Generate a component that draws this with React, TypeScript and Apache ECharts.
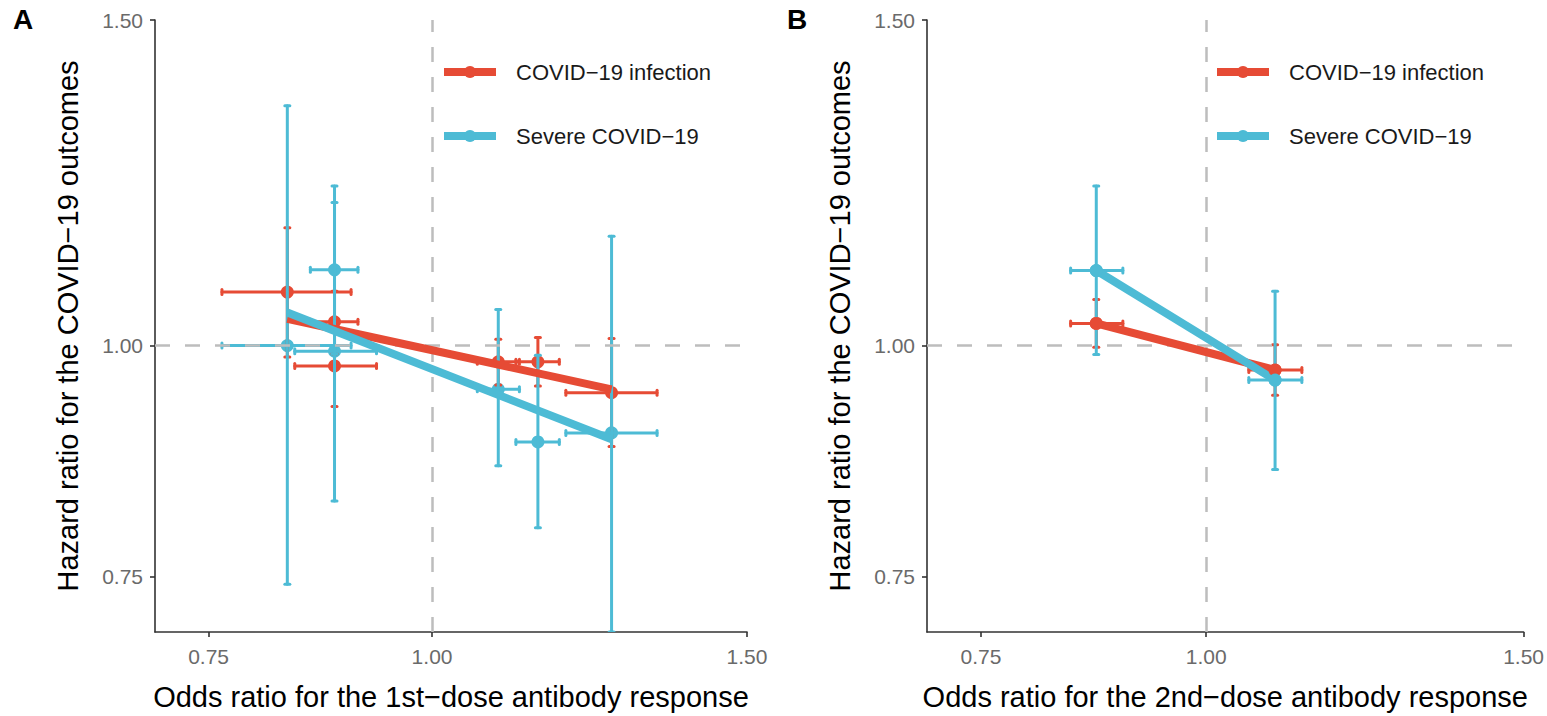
import React, { useEffect, useRef } from 'react';
import * as echarts from 'echarts';

const seriesNames = ['COVID−19 infection', 'Severe COVID−19'];
const seriesColors = ['#E64B35', '#4DBBD5'];
const tickValues = [0.75, 1.0, 1.5];
const axisMin = 0.7;
const axisMax = 1.5;
const xTitleA = 'Odds ratio for the 1st−dose antibody response';
const xTitleB = 'Odds ratio for the 2nd−dose antibody response';
const yTitle = 'Hazard ratio for the COVID−19 outcomes';

// Panel A — COVID−19 infection
const aInfX = [0.830, 0.882, 0.882, 1.089, 1.146, 1.260];
const aInfY = [1.069, 1.030, 0.975, 0.980, 0.980, 0.943];
const aInfXLo = [0.763, 0.855, 0.838, 1.060, 1.114, 1.188];
const aInfXHi = [0.901, 0.909, 0.931, 1.119, 1.178, 1.336];
const aInfYLo = [0.986, 0.990, 0.927, 0.952, 0.951, 0.882];
const aInfYHi = [1.158, 1.070, 1.025, 1.008, 1.010, 1.009];
// Panel A — Severe COVID−19
const aSevX = [0.830, 0.882, 0.882, 1.089, 1.146, 1.260];
const aSevY = [1.000, 1.099, 0.993, 0.947, 0.887, 0.897];
const aSevXLo = [0.763, 0.855, 0.838, 1.060, 1.114, 1.188];
const aSevXHi = [0.901, 0.909, 0.931, 1.119, 1.178, 1.336];
const aSevYLo = [0.743, 0.990, 0.824, 0.861, 0.797, 0.700];
const aSevYHi = [1.348, 1.220, 1.195, 1.046, 0.988, 1.146];
// Panel A — fitted lines
const aInfFitX = [0.830, 1.260];
const aInfFitY = [1.034, 0.947];
const aSevFitX = [0.830, 1.260];
const aSevFitY = [1.042, 0.890];

// Panel B — COVID−19 infection
const bInfX = [0.869, 1.092];
const bInfY = [1.028, 0.970];
const bInfXLo = [0.841, 1.056];
const bInfXHi = [0.899, 1.130];
const bInfYLo = [0.998, 0.940];
const bInfYHi = [1.059, 1.001];
// Panel B — Severe COVID−19
const bSevX = [0.869, 1.092];
const bSevY = [1.098, 0.958];
const bSevXLo = [0.841, 1.056];
const bSevXHi = [0.899, 1.130];
const bSevYLo = [0.989, 0.857];
const bSevYHi = [1.220, 1.070];

const L = Math.log;
const FONT = '"Liberation Sans", Arial, Helvetica, sans-serif';

const errData = (x: number[], y: number[], xlo: number[], xhi: number[], ylo: number[], yhi: number[]) =>
  x.map((v, i) => [L(v), L(y[i]), L(xlo[i]), L(xhi[i]), L(ylo[i]), L(yhi[i])]);
const ptData = (x: number[], y: number[]) => x.map((v, i) => [L(v), L(y[i])]);

const renderErr = (color: string) => (params: any, api: any) => {
  const c = api.coord([api.value(0), api.value(1)]);
  const xl = api.coord([api.value(2), api.value(1)]);
  const xh = api.coord([api.value(3), api.value(1)]);
  const yl = api.coord([api.value(0), api.value(4)]);
  const yh = api.coord([api.value(0), api.value(5)]);
  const cap = 2.5;
  const style = { stroke: color, lineWidth: 3, lineCap: 'round' };
  const seg = (x1: number, y1: number, x2: number, y2: number) => ({
    type: 'line',
    shape: { x1, y1, x2, y2 },
    style,
  });
  return {
    type: 'group',
    children: [
      seg(xl[0], c[1], xh[0], c[1]),
      seg(xl[0], c[1] - cap, xl[0], c[1] + cap),
      seg(xh[0], c[1] - cap, xh[0], c[1] + cap),
      seg(c[0], yl[1], c[0], yh[1]),
      seg(c[0] - cap, yl[1], c[0] + cap, yl[1]),
      seg(c[0] - cap, yh[1], c[0] + cap, yh[1]),
    ],
  };
};

const mkX = (gridIndex: number, name: string) => ({
  type: 'value',
  gridIndex,
  min: L(axisMin),
  max: L(axisMax),
  name,
  nameLocation: 'middle',
  nameGap: 50,
  nameTextStyle: { fontSize: 29, color: '#000', fontFamily: FONT },
  axisLine: { show: true, onZero: false, lineStyle: { color: '#333', width: 1.6 } },
  axisTick: { show: true, length: 5, customValues: tickValues.map(L), lineStyle: { color: '#333', width: 1.6 } },
  axisLabel: {
    customValues: tickValues.map(L),
    formatter: (v: number) => Math.exp(v).toFixed(2),
    fontSize: 21,
    color: '#6a6a6a',
    margin: 14,
    fontFamily: FONT,
  },
  splitLine: { show: false },
});

const mkY = (gridIndex: number) => ({
  type: 'value',
  gridIndex,
  min: L(axisMin),
  max: L(axisMax),
  name: yTitle,
  nameLocation: 'middle',
  nameGap: 73,
  nameTextStyle: { fontSize: 29, color: '#000', fontFamily: FONT },
  axisLine: { show: true, onZero: false, lineStyle: { color: '#333', width: 1.6 } },
  axisTick: { show: true, length: 5, customValues: tickValues.map(L), lineStyle: { color: '#333', width: 1.6 } },
  axisLabel: {
    customValues: tickValues.map(L),
    formatter: (v: number) => Math.exp(v).toFixed(2),
    fontSize: 21,
    color: '#6a6a6a',
    margin: 12,
    fontFamily: FONT,
  },
  splitLine: { show: false },
});

const refLineSeries = (idx: number) => ({
  type: 'line',
  xAxisIndex: idx,
  yAxisIndex: idx,
  data: [],
  z: 1,
  silent: true,
  markLine: {
    silent: true,
    symbol: 'none',
    label: { show: false },
    lineStyle: { color: '#BDBDBD', width: 2.5, type: [15, 15] },
    data: [{ xAxis: 0 }, { yAxis: 0 }],
  },
});

const lineSeries = (idx: number, nameIdx: number, x: number[], y: number[], withSymbol: boolean) => ({
  type: 'line',
  name: seriesNames[nameIdx],
  xAxisIndex: idx,
  yAxisIndex: idx,
  data: ptData(x, y),
  z: 5,
  symbol: withSymbol ? 'circle' : 'none',
  symbolSize: 13,
  showSymbol: withSymbol,
  itemStyle: { color: seriesColors[nameIdx] },
  lineStyle: { color: seriesColors[nameIdx], width: 8 },
});

const errSeries = (idx: number, nameIdx: number, d: number[][]) => ({
  type: 'custom',
  name: seriesNames[nameIdx],
  xAxisIndex: idx,
  yAxisIndex: idx,
  data: d,
  z: 3,
  clip: true,
  encode: { x: [0, 2, 3], y: [1, 4, 5] },
  itemStyle: { color: seriesColors[nameIdx] },
  renderItem: renderErr(seriesColors[nameIdx]),
});

const pointSeries = (idx: number, nameIdx: number, x: number[], y: number[]) => ({
  type: 'scatter',
  name: seriesNames[nameIdx],
  xAxisIndex: idx,
  yAxisIndex: idx,
  data: ptData(x, y),
  z: 2,
  symbol: 'circle',
  symbolSize: 13,
  itemStyle: { color: seriesColors[nameIdx], opacity: 1 },
});

const mkLegend = (left: number) => ({
  orient: 'vertical',
  left,
  top: 59,
  padding: 0,
  itemWidth: 52,
  itemHeight: 15,
  itemGap: 38,
  selectedMode: false,
  data: seriesNames,
  lineStyle: { width: 8 },
  textStyle: { fontSize: 22, color: '#1a1a1a', fontFamily: FONT, padding: [0, 0, 0, 15], lineHeight: 26 },
});

export default function App() {
  const ref = useRef<HTMLDivElement>(null);
  useEffect(() => {
    if (!ref.current) return;
    const chart = echarts.init(ref.current, null, { renderer: 'svg' });
    chart.setOption({
      animation: false,
      backgroundColor: '#ffffff',
      textStyle: { fontFamily: FONT },
      title: [
        { text: 'A', left: 13, top: 5, padding: 0, textStyle: { fontSize: 28, fontWeight: 'bold', color: '#000', fontFamily: FONT } },
        { text: 'B', left: 787, top: 5, padding: 0, textStyle: { fontSize: 28, fontWeight: 'bold', color: '#000', fontFamily: FONT } },
      ],
      legend: [mkLegend(440), mkLegend(1213)],
      grid: [
        { left: 155, top: 20, width: 592, height: 615 },
        { left: 927, top: 20, width: 598, height: 615 },
      ],
      xAxis: [mkX(0, xTitleA), mkX(1, xTitleB)],
      yAxis: [mkY(0), mkY(1)],
      series: [
        lineSeries(1, 0, bInfX, bInfY, true),
        lineSeries(1, 1, bSevX, bSevY, true),
        refLineSeries(0),
        refLineSeries(1),
        pointSeries(0, 0, aInfX, aInfY),
        pointSeries(0, 1, aSevX, aSevY),
        pointSeries(1, 0, bInfX, bInfY),
        pointSeries(1, 1, bSevX, bSevY),
        errSeries(0, 0, errData(aInfX, aInfY, aInfXLo, aInfXHi, aInfYLo, aInfYHi)),
        errSeries(0, 1, errData(aSevX, aSevY, aSevXLo, aSevXHi, aSevYLo, aSevYHi)),
        errSeries(1, 0, errData(bInfX, bInfY, bInfXLo, bInfXHi, bInfYLo, bInfYHi)),
        errSeries(1, 1, errData(bSevX, bSevY, bSevXLo, bSevXHi, bSevYLo, bSevYHi)),
        lineSeries(0, 0, aInfFitX, aInfFitY, false),
        lineSeries(0, 1, aSevFitX, aSevFitY, false),
      ],
    });
    return () => chart.dispose();
  }, []);
  return (
    <div
      ref={ref}
      style={{ position: 'fixed', left: 0, top: 0, width: 1547, height: 716, background: '#fff' }}
    />
  );
}
